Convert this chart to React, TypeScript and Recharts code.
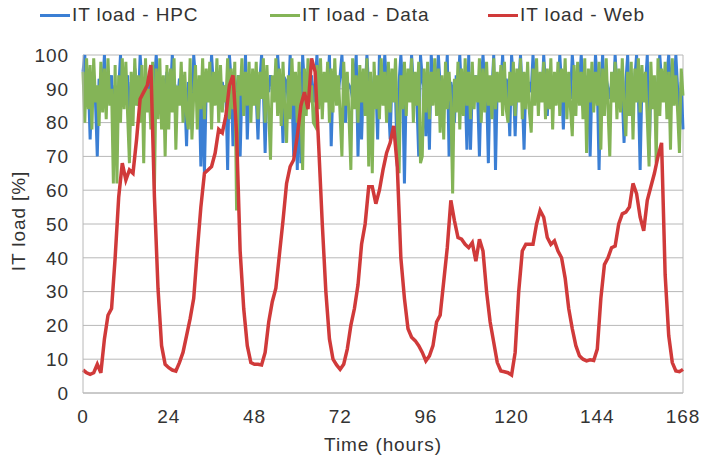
import { CartesianGrid, Label, Line, LineChart, ReferenceLine, XAxis, YAxis } from 'recharts';

const hourTicks = [0, 24, 48, 72, 96, 120, 144, 168];
const loadTicks = [0, 10, 20, 30, 40, 50, 60, 70, 80, 90, 100];

// web load, one value per hour (0..168)
const webLoad = [
  6.8, 6, 5.5, 6, 8.5, 6, 16, 23, 25, 40, 58, 68,
  63, 66, 65, 75, 87, 89, 91, 97, 58, 31, 14, 8.5,
  7.5, 6.8, 6.5, 9, 12, 17, 22, 28, 42, 55, 65, 66,
  67, 71, 78, 77, 82, 91, 94, 77, 42, 25, 14, 9,
  8.5, 8.5, 8.3, 12, 21, 27, 31, 41, 51, 62, 67, 69,
  76, 85, 89, 84, 99, 95, 73, 50, 30, 16, 10, 8.3,
  7, 8.5, 13, 20, 25, 32, 44, 50, 61, 61, 56, 60,
  66, 71, 74, 79, 67, 40, 28, 19, 16.5, 15.5, 14, 12,
  9.5, 11, 14, 21, 23, 33, 43, 57, 51, 46, 45.5, 44,
  43, 44.5, 39, 45.5, 42, 30, 21, 15, 9, 6.5, 6.3, 6,
  5.3, 12, 30, 42, 44, 44, 44, 50, 54, 52, 46, 44,
  45, 42, 40, 34, 25, 19, 14, 11, 10, 9.5, 9.8, 9.6,
  13, 28, 38, 40, 43, 43.5, 50, 53, 53.5, 55, 62, 59,
  52, 48, 57, 61, 65, 70, 74, 35, 17, 9, 6.5, 6.3,
  7,
];

// HPC load, one value per half hour (0..168)
const hpcLoad = [
  95, 100, 88, 92, 75, 90, 94, 86, 70, 93, 89, 91, 100, 87, 92, 90, 94, 80, 91, 88, 90, 100, 88, 93,
  90, 94, 76, 92, 89, 96, 91, 85, 100, 92, 88, 93, 90, 87, 94, 86, 92, 100, 91, 89, 87, 93, 90, 95,
  91, 89, 100, 92, 90, 86, 93, 91, 94, 88, 73, 92, 90, 78, 100, 93, 87, 91, 67, 92, 65, 90, 94, 88,
  100, 91, 90, 86, 93, 90, 92, 88, 91, 66, 100, 92, 73, 90, 89, 94, 70, 91, 87, 100, 75, 91, 93, 89,
  93, 88, 75, 92, 100, 90, 71, 92, 89, 94, 91, 90, 87, 100, 92, 90, 74, 93, 92, 86, 100, 90, 70, 92,
  66, 92, 68, 100, 91, 88, 93, 90, 94, 86, 91, 100, 89, 92, 90, 87, 93, 91, 100, 73, 92, 90, 93, 89,
  94, 100, 88, 80, 92, 91, 90, 87, 93, 100, 70, 91, 75, 92, 89, 100, 90, 91, 88, 93, 92, 75, 100, 90,
  92, 100, 91, 87, 75, 93, 90, 89, 67, 92, 100, 91, 62, 90, 94, 88, 100, 91, 92, 86, 70, 100, 93, 90,
  76, 92, 72, 100, 93, 88, 91, 100, 91, 93, 87, 90, 100, 70, 92, 89, 80, 94, 91, 100, 88, 92, 90, 72,
  100, 72, 91, 90, 94, 88, 70, 92, 100, 91, 90, 68, 93, 89, 100, 66, 92, 90, 91, 100, 87, 93, 90, 76,
  100, 93, 76, 92, 91, 100, 88, 72, 93, 90, 92, 89, 100, 91, 90, 94, 92, 87, 100, 91, 82, 93, 90, 91,
  93, 92, 88, 100, 91, 78, 92, 91, 90, 87, 100, 93, 91, 89, 92, 100, 91, 90, 93, 94, 70, 92, 88, 100,
  92, 66, 91, 100, 89, 93, 90, 87, 92, 88, 100, 91, 93, 90, 88, 74, 92, 100, 86, 90, 92, 93, 100, 89,
  66, 92, 93, 91, 100, 70, 91, 93, 90, 88, 92, 100, 92, 91, 89, 94, 100, 91, 92, 90, 100, 90, 78, 92,
  78,
];

// data-centre load, one value per half hour (0..168)
const dataLoad = [
  95, 80, 99, 84, 97, 78, 99, 86, 91, 79, 98, 83, 96, 81, 99, 85, 90, 62, 97, 62, 94, 80, 99, 84,
  98, 82, 68, 95, 79, 99, 85, 94, 80, 97, 68, 99, 83, 90, 78, 98, 60, 96, 81, 99, 78, 94, 70, 97,
  78, 96, 83, 99, 72, 91, 85, 98, 80, 95, 82, 78, 99, 75, 88, 97, 78, 94, 84, 99, 81, 96, 86, 98,
  78, 95, 85, 99, 80, 97, 83, 91, 86, 99, 81, 96, 84, 98, 54, 94, 88, 99, 82, 95, 85, 98, 80, 96,
  85, 98, 81, 95, 87, 99, 80, 97, 83, 69, 94, 86, 99, 82, 96, 79, 98, 84, 74, 94, 81, 99, 85, 95,
  80, 98, 84, 66, 96, 82, 99, 86, 91, 80, 79, 97, 84, 99, 81, 95, 86, 98, 80, 96, 83, 99, 85, 94,
  82, 70, 98, 85, 95, 81, 66, 99, 84, 94, 80, 97, 86, 96, 82, 99, 67, 95, 65, 98, 84, 94, 81, 99,
  85, 95, 80, 98, 83, 96, 86, 99, 81, 65, 94, 84, 98, 82, 96, 86, 99, 80, 95, 85, 98, 68, 70, 96,
  83, 98, 81, 95, 85, 99, 82, 96, 77, 94, 75, 98, 84, 95, 86, 59, 93, 83, 98, 78, 96, 82, 99, 85,
  95, 81, 98, 84, 94, 86, 99, 80, 96, 83, 98, 85, 94, 81, 99, 84, 95, 86, 97, 82, 98, 84, 80, 95,
  85, 98, 82, 96, 86, 99, 81, 95, 84, 98, 83, 77, 96, 85, 99, 82, 95, 86, 98, 81, 96, 84, 99, 78,
  95, 85, 98, 82, 96, 86, 99, 81, 95, 84, 76, 97, 82, 98, 85, 95, 81, 99, 71, 96, 86, 98, 83, 95,
  85, 98, 72, 96, 82, 99, 84, 70, 95, 86, 98, 81, 96, 83, 99, 85, 76, 95, 82, 98, 75, 96, 86, 99,
  83, 97, 86, 95, 81, 67, 98, 84, 94, 68, 99, 82, 96, 86, 98, 81, 95, 72, 99, 85, 94, 83, 71, 96,
  88,
];

const webPoints = webLoad.map((load, i) => ({ hour: i, load }));
const clusterPoints = hpcLoad.map((hpc, i) => ({ hour: i / 2, hpc, data: dataLoad[i] }));

const series = [
  { name: 'IT load - HPC', color: '#3b7fd4', left: 40 },
  { name: 'IT load - Data', color: '#84b457', left: 270 },
  { name: 'IT load - Web', color: '#d03a3a', left: 488 },
];

const font = '"Liberation Sans", Arial, sans-serif';
const textColor = '#333333';
const gridColor = '#b8b8b8';
const tickStyle = { fontFamily: font, fontSize: 19, fill: textColor, letterSpacing: 0.9 };

function LegendRow() {
  return (
    <div style={{ position: 'absolute', top: 4, left: 0, width: 701, height: 24, fontFamily: font, fontSize: 19, letterSpacing: 0.9, color: textColor }}>
      {series.map(s => (
        <div key={s.name} style={{ position: 'absolute', left: s.left, top: 0, display: 'flex', alignItems: 'center', whiteSpace: 'nowrap' }}>
          <span style={{ display: 'inline-block', width: 30, height: 3, background: s.color, marginRight: 2 }} />
          <span>{s.name}</span>
        </div>
      ))}
    </div>
  );
}

function YTitle({ viewBox }: any) {
  const cx = viewBox.x + 18;
  const cy = viewBox.y + viewBox.height / 2 - 3;
  return (
    <text
      x={cx}
      y={cy}
      transform={`rotate(-90, ${cx}, ${cy})`}
      textAnchor="middle"
      dominantBaseline="central"
      fontFamily={font}
      fontSize={19}
      letterSpacing={0.9}
      fill={textColor}
    >
      IT load [%]
    </text>
  );
}

export default function App() {
  return (
    <div style={{ position: 'absolute', left: 0, top: 0, width: 701, height: 457, background: '#fff' }}>
      <LegendRow />
      <LineChart width={701} height={457} margin={{ top: 55, right: 18, bottom: 0, left: 0 }}>
        <CartesianGrid horizontal vertical={false} stroke={gridColor} />
        <XAxis
          dataKey="hour"
          type="number"
          domain={[0, 168]}
          ticks={hourTicks}
          height={64}
          tickLine={false}
          tickSize={0}
          tickMargin={17}
          axisLine={{ stroke: gridColor }}
          tick={tickStyle}
        >
          <Label value="Time (hours)" position="insideBottom" offset={6} style={tickStyle} />
        </XAxis>
        <YAxis
          type="number"
          domain={[0, 100]}
          ticks={loadTicks}
          width={83}
          tickLine={false}
          tickSize={0}
          tickMargin={14}
          axisLine={{ stroke: gridColor }}
          tick={tickStyle}
        >
          <Label content={YTitle} />
        </YAxis>
        <ReferenceLine x={168} stroke={gridColor} />
        <Line
          data={clusterPoints}
          dataKey="hpc"
          name={series[0].name}
          type="linear"
          stroke={series[0].color}
          strokeWidth={3}
          dot={false}
          isAnimationActive={false}
        />
        <Line
          data={clusterPoints}
          dataKey="data"
          name={series[1].name}
          type="linear"
          stroke={series[1].color}
          strokeWidth={3}
          dot={false}
          isAnimationActive={false}
        />
        <Line
          data={webPoints}
          dataKey="load"
          name={series[2].name}
          type="linear"
          stroke={series[2].color}
          strokeWidth={3.5}
          dot={false}
          isAnimationActive={false}
        />
      </LineChart>
    </div>
  );
}
